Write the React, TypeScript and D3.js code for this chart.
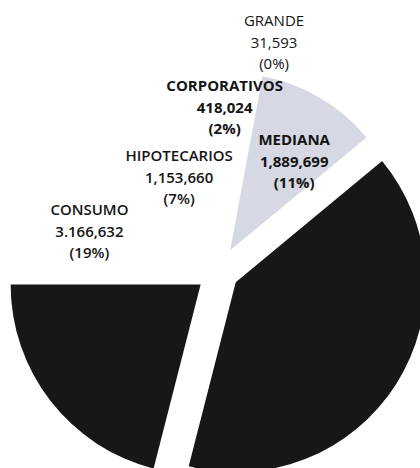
import React, { useEffect, useRef } from "react";
import * as d3 from "d3";

// Slices in clockwise order, starting at 9 o'clock
const categories = [
  "CONSUMO",
  "HIPOTECARIOS",
  "CORPORATIVOS",
  "GRANDE",
  "MEDIANA",
  "PEQUEÑA",
  "MICRO",
];
const values = [3166632, 1153660, 418024, 31593, 1889699, 6830000, 3590000];
const valueTexts = [
  "3.166,632",
  "1,153,660",
  "418,024",
  "31,593",
  "1,889,699",
  "",
  "",
];
// slices whose labels are visible in the picture
const labelled = ["CONSUMO", "HIPOTECARIOS", "CORPORATIVOS", "GRANDE", "MEDIANA"];

const colors: Record<string, string> = {
  CONSUMO: "#ffffff",
  HIPOTECARIOS: "#ffffff",
  CORPORATIVOS: "#ffffff",
  GRANDE: "#ffffff",
  MEDIANA: "#d6d8e3",
  "PEQUEÑA": "#171717",
  MICRO: "#171717",
};
const exploded: Record<string, number> = { MEDIANA: 24, "PEQUEÑA": 21, MICRO: 22 };

// label placement: [angle in degrees from 12 o'clock, distance from centre]
const labelPos: Record<string, [number, number]> = {
  CONSUMO: [-75.2, 133],
  HIPOTECARIOS: [-23.9, 96],
  CORPORATIVOS: [2.4, 158],
  GRANDE: [14.1, 230],
  MEDIANA: [36.2, 129],
};
const labelWeight: Record<string, number> = {
  CONSUMO: 600,
  HIPOTECARIOS: 600,
  CORPORATIVOS: 700,
  GRANDE: 400,
  MEDIANA: 700,
};

const W = 420;
const H = 468;

type Slice = { name: string; value: number; text: string };

const App: React.FC = () => {
  const svgRef = useRef<SVGSVGElement | null>(null);

  useEffect(() => {
    const svg = d3.select(svgRef.current);
    svg.selectAll("*").remove();

    const cx = 218;
    const cy = 271;
    const radius = 190;
    const fontFamily = "'Open Sans', sans-serif";

    const data: Slice[] = categories.map((c, i) => ({ name: c, value: values[i], text: valueTexts[i] }));
    const total = d3.sum(values);

    const pie = d3
      .pie<Slice>()
      .sort(null)
      .value((d) => d.value)
      .startAngle(-Math.PI / 2)
      .endAngle((3 * Math.PI) / 2);

    // the grey slice sits a little inside the others in the scan
    const arc = d3
      .arc<d3.PieArcDatum<Slice>>()
      .innerRadius(0)
      .outerRadius((d) => (d.data.name === "MEDIANA" ? radius - 13 : radius));

    svg.append("rect").attr("width", W).attr("height", H).attr("fill", "white");

    const chart = svg.append("g").attr("transform", `translate(${cx},${cy})`);

    chart
      .selectAll(".slice")
      .data(pie(data))
      .enter()
      .append("path")
      .attr("class", "slice")
      .attr("d", arc)
      .attr("fill", (d) => colors[d.data.name])
      .attr("transform", (d) => {
        const off = exploded[d.data.name] || 0;
        const [x, y] = d3.pointRadial((d.startAngle + d.endAngle) / 2, off);
        return `translate(${x},${y})`;
      });

    // Data labels
    const labels = chart
      .selectAll(".label")
      .data(data.filter((d) => labelled.includes(d.name)))
      .enter()
      .append("text")
      .attr("class", "label")
      .attr("transform", (d) => {
        const [a, r] = labelPos[d.name];
        const [x, y] = d3.pointRadial((a * Math.PI) / 180, r);
        return `translate(${x},${y})`;
      })
      .attr("text-anchor", "middle")
      .attr("fill", "#141414")
      .style("font-family", fontFamily)
      .style("font-size", "15px")
      .style("font-weight", (d) => labelWeight[d.name]);

    labels
      .append("tspan")
      .attr("x", 0)
      .attr("y", -22)
      .text((d) => d.name);
    labels
      .append("tspan")
      .attr("x", 0)
      .attr("y", 0)
      .text((d) => d.text);
    labels
      .append("tspan")
      .attr("x", 0)
      .attr("y", 21)
      .text((d) => `(${Math.round((d.value / total) * 100)}%)`);
  }, []);

  return (
    <svg
      ref={svgRef}
      width={W}
      height={H}
      style={{ position: "absolute", left: 0, top: 0, overflow: "hidden" }}
    ></svg>
  );
};

export default App;
